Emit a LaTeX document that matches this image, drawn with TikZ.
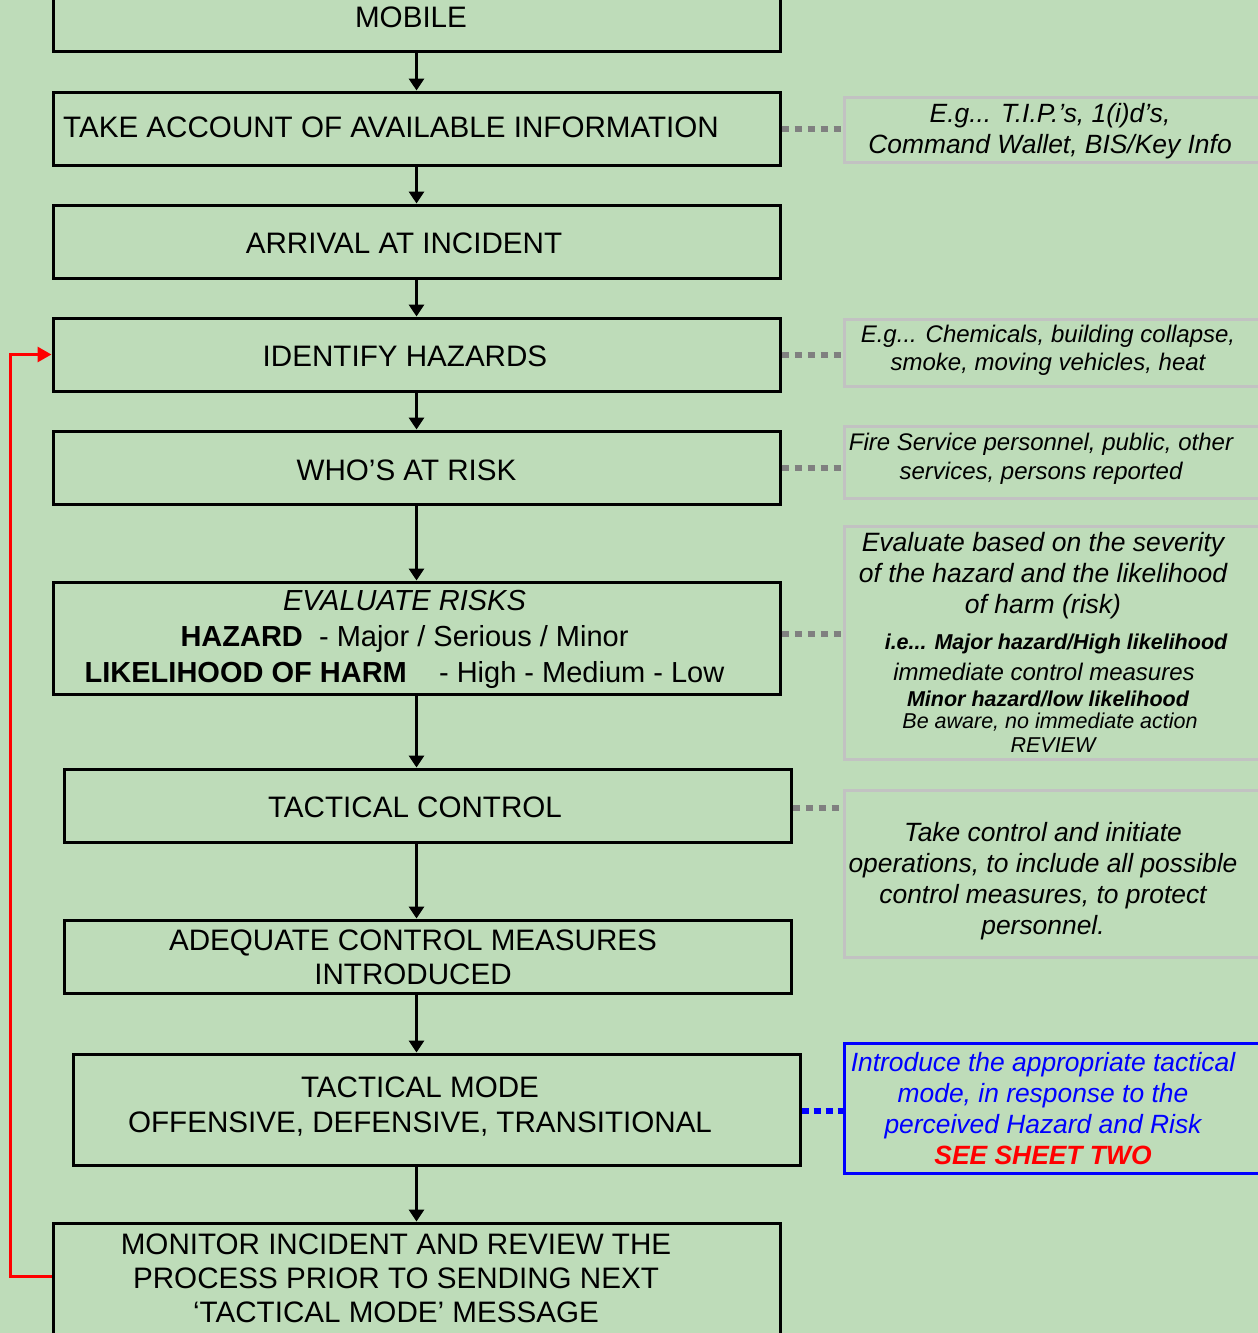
\documentclass[tikz,border=0pt]{standalone}
\usepackage{fontspec}
\setmainfont{Liberation Sans}
\usetikzlibrary{arrows.meta,calc}
\definecolor{bg}{RGB}{190,220,185}
\definecolor{notegray}{RGB}{194,194,194}
\definecolor{dotgray}{RGB}{128,128,128}
\definecolor{pureblue}{RGB}{0,0,255}
\definecolor{purered}{RGB}{255,0,0}

\begin{document}
\begin{tikzpicture}[x=1pt,y=-1pt,
  stepbox/.style={draw=black,line width=3pt,inner sep=0pt,minimum width=727pt},
  notebox/.style={draw=notegray,line width=3pt,inner sep=0pt,minimum width=426pt},
  steptext/.style={inner sep=0pt,align=center,font=\fontsize{29.6}{34}\selectfont},
  notetext/.style={inner sep=0pt,align=center,font=\fontsize{26.4}{31}\selectfont\itshape},
  flow/.style={line width=3pt,-{Triangle[width=15pt,length=12pt]}},
  dotlink/.style={dotgray,line width=6pt,dash pattern=on 7pt off 6pt},
  bluelink/.style={pureblue,line width=6pt,dash pattern=on 7pt off 5pt},
  feedback/.style={purered,line width=3pt,-{Triangle[width=15pt,length=14pt]}}]

\useasboundingbox (0,0) rectangle (1258,1333);
\fill[bg] (0,0) rectangle (1258,1333);
\begin{scope}
\clip (0,0) rectangle (1258,1333);

% process steps
\node[stepbox,minimum height=81pt] (mobile) at (416.5,10.5) {};
\node[stepbox,minimum height=73pt] (take)   at (416.5,128.5) {};
\node[stepbox,minimum height=73pt] (arrive) at (416.5,241.5) {};
\node[stepbox,minimum height=73pt] (ident)  at (416.5,354.5) {};
\node[stepbox,minimum height=73pt] (who)    at (416.5,467.5) {};
\node[stepbox,minimum height=112pt] (eval)  at (416.5,638) {};
\node[stepbox,minimum height=73pt] (tc)     at (427.5,805.5) {};
\node[stepbox,minimum height=73pt] (adeq)   at (427.5,956.5) {};
\node[stepbox,minimum height=111pt] (mode)  at (436.5,1109.5) {};
\node[stepbox,minimum height=122pt] (mon)   at (416.5,1284) {};

\node[steptext] (tmobile) at (411,17) {MOBILE};
\node[steptext] (ttake)   at (391,127) {TAKE ACCOUNT OF AVAILABLE INFORMATION};
\node[steptext] (tarrive) at (404,243) {ARRIVAL AT INCIDENT};
\node[steptext] (tident)  at (405,356) {IDENTIFY HAZARDS};
\node[steptext] (twho)    at (406.5,470) {WHO’S AT RISK};
\node[steptext,font=\fontsize{29}{36}\selectfont] (teval) at (404.5,639)
  {\textit{EVALUATE RISKS}\\
   \textbf{HAZARD}\ \ - Major / Serious / Minor\\
   \textbf{LIKELIHOOD OF HARM}\ \ \ \ - High - Medium - Low};
\node[steptext] (ttc)     at (415,807) {TACTICAL CONTROL};
\node[steptext] (tadeq)   at (413,957) {ADEQUATE CONTROL MEASURES\\INTRODUCED};
\node[steptext,font=\fontsize{29.6}{35}\selectfont] (tmode) at (420,1106.5)
  {TACTICAL MODE\\OFFENSIVE, DEFENSIVE, TRANSITIONAL};
\node[steptext] (tmon)    at (396,1278)
  {MONITOR INCIDENT AND REVIEW THE\\PROCESS PRIOR TO SENDING NEXT\\‘TACTICAL MODE’ MESSAGE};

% flow arrows
\draw[flow] (mobile.south) -- (take.north);
\draw[flow] (take.south) -- (arrive.north);
\draw[flow] (arrive.south) -- (ident.north);
\draw[flow] (ident.south) -- (who.north);
\draw[flow] (who.south) -- (eval.north);
\draw[flow] (eval.south) -- (eval.south |- tc.north);
\draw[flow] (eval.south |- tc.south) -- (eval.south |- adeq.north);
\draw[flow] (eval.south |- adeq.south) -- (eval.south |- mode.north);
\draw[flow] (eval.south |- mode.south) -- (mon.north);

% review loop
\coordinate (loopstart) at ($(mon.north west)+(0,55)$);
\draw[feedback] (loopstart) -- ++(-41,0) |- (ident.west);

% notes
\node[notebox,minimum height=65pt]  (n1) at (1057,129.5) {};
\node[notebox,minimum height=67pt]  (n2) at (1057,352.5) {};
\node[notebox,minimum height=72pt]  (n3) at (1057,462) {};
\node[notebox,minimum height=233pt] (n4) at (1057,642.5) {};
\node[notebox,minimum height=167pt] (n5) at (1057,873.5) {};
\node[notebox,draw=pureblue,minimum height=130pt] (n6) at (1057,1108) {};

\node[notetext] (tn1) at (1050,131)
  {E.g... T.I.P.’s, 1(i)d’s,\\Command Wallet, BIS/Key Info};
\node[notetext,font=\fontsize{24}{28}\selectfont\itshape] (tn2) at (1048,350)
  {E.g... Chemicals, building collapse,\\smoke, moving vehicles, heat};
\node[notetext,font=\fontsize{24}{29}\selectfont\itshape] (tn3) at (1041,459)
  {Fire Service personnel, public, other\\services, persons reported};
\node[notetext,font=\fontsize{26.5}{31}\selectfont\itshape] (tn4) at (1043,576)
  {Evaluate based on the severity\\of the hazard and the likelihood\\of harm (risk)};
\node[notetext,font=\fontsize{21.5}{26}\selectfont\itshape\bfseries] (tn4a) at (1056,644)
  {i.e... Major hazard/High likelihood};
\node[notetext,font=\fontsize{24}{28}\selectfont\itshape] (tn4b) at (1044,672)
  {immediate control measures};
\node[notetext,font=\fontsize{21.5}{26}\selectfont\itshape\bfseries] (tn4c) at (1048,699)
  {Minor hazard/low likelihood};
\node[notetext,font=\fontsize{21.5}{26}\selectfont\itshape] (tn4d) at (1050,722)
  {Be aware, no immediate action};
\node[notetext,font=\fontsize{21.5}{26}\selectfont\itshape] (tn4e) at (1053,745)
  {REVIEW};
\node[notetext] (tn5) at (1043,881)
  {Take control and initiate\\operations, to include all possible\\control measures, to protect\\personnel.};
\node[notetext,text=pureblue] (tn6) at (1043,1109)
  {Introduce the appropriate tactical\\mode, in response to the\\perceived Hazard and Risk\\
   \textcolor{purered}{\bfseries SEE SHEET TWO}};

% note links
\draw[dotlink]  (take.east)  -- (take.east -| n1.west);
\draw[dotlink]  (ident.east) -- (ident.east -| n2.west);
\draw[dotlink]  (who.east)   -- (who.east -| n3.west);
\draw[dotlink]  ($(eval.east)+(0,-4)$) -- ($(eval.east -| n4.west)+(0,-4)$);
\draw[dotlink]  ($(tc.east)+(0,2.5)$) -- ($(tc.east -| n5.west)+(0,2.5)$);
\draw[bluelink] ($(mode.east)+(0,1.5)$) -- ($(mode.east -| n6.west)+(0,1.5)$);
\end{scope}
\end{tikzpicture}
\end{document}
